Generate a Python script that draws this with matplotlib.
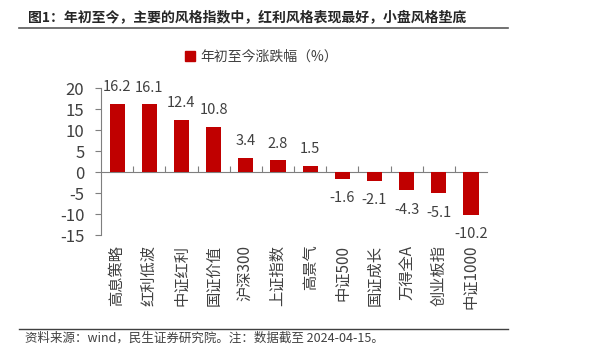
import matplotlib
matplotlib.use("Agg")
import matplotlib.pyplot as plt
from matplotlib.lines import Line2D
from matplotlib.patches import Patch

plt.rcParams['font.family'] = ['Noto Sans CJK SC', 'DejaVu Sans']
plt.rcParams['axes.unicode_minus'] = False

categories = ['高息策略', '红利低波', '中证红利', '国证价值', '沪深300', '上证指数',
              '高景气', '中证500', '国证成长', '万得全A', '创业板指', '中证1000']
values = [16.2, 16.1, 12.4, 10.8, 3.4, 2.8, 1.5, -1.6, -2.1, -4.3, -5.1, -10.2]
y_ticks = [20, 15, 10, 5, 0, -5, -10, -15]

bar_color = '#C00000'
text_color = '#404040'
axis_color = '#7F7F7F'


def main():
    fig = plt.figure(figsize=(6.1, 3.61), dpi=100)
    ax = fig.add_axes([0.1656, 0.349, 0.633, 0.407])

    x = list(range(len(categories)))
    ax.bar(x, values, width=0.47, color=bar_color, zorder=2)

    for xi, v in zip(x, values):
        if v >= 0:
            ax.annotate(f'{v:.1f}', (xi, v), xytext=(0, 7), textcoords='offset points',
                        ha='center', va='bottom', fontsize=10.5, color=text_color)
        else:
            ax.annotate(f'{v:.1f}', (xi, v), xytext=(0, -9), textcoords='offset points',
                        ha='center', va='top', fontsize=10.5, color=text_color)

    ax.set_xlim(-0.5, len(categories) - 0.5)
    ax.set_ylim(-15, 20)
    ax.set_yticks(y_ticks)
    ax.tick_params(axis='y', direction='out', length=4, color=axis_color,
                   labelsize=12, labelcolor=text_color, pad=8)

    ax.set_xticks(x)
    ax.set_xticklabels(categories, rotation=90, fontsize=11, color=text_color)
    ax.tick_params(axis='x', length=0, pad=7)

    for side in ['top', 'right', 'bottom']:
        ax.spines[side].set_visible(False)
    ax.spines['left'].set_color(axis_color)

    # zero line with ticks between categories
    zero_pos = (0 - (-15)) / (20 - (-15))
    sec = ax.secondary_xaxis(zero_pos)
    sec.set_xticks([i + 0.5 for i in x[:-1]])
    sec.tick_params(direction='in', length=4, color=axis_color, labelbottom=False,
                    labeltop=False)
    sec.spines['bottom'].set_color(axis_color)
    sec.spines['top'].set_color(axis_color)

    handles = [Patch(facecolor=bar_color, edgecolor=bar_color)]
    fig.legend(handles, ['年初至今涨跌幅（%）'], loc='center', bbox_to_anchor=(0.429, 0.842),
               frameon=False, fontsize=10, handlelength=0.7, handleheight=0.7,
               handletextpad=0.4, labelcolor=text_color)

    fig.text(0.046, 0.952, '图1：年初至今，主要的风格指数中，红利风格表现最好，小盘风格垫底',
             fontsize=10, fontweight='bold', color='#262626', ha='left', va='center')
    fig.add_artist(Line2D([0.031, 0.833], [0.923, 0.923], color='#595959', lw=1.2))
    fig.add_artist(Line2D([0.031, 0.833], [0.088, 0.088], color='#404040', lw=1.0))
    fig.text(0.041, 0.062, '资料来源：wind，民生证券研究院。注：数据截至 2024-04-15。',
             fontsize=9, color='#404040', ha='left', va='center')

    fig.savefig('out.png', dpi=100)


if __name__ == '__main__':
    main()
